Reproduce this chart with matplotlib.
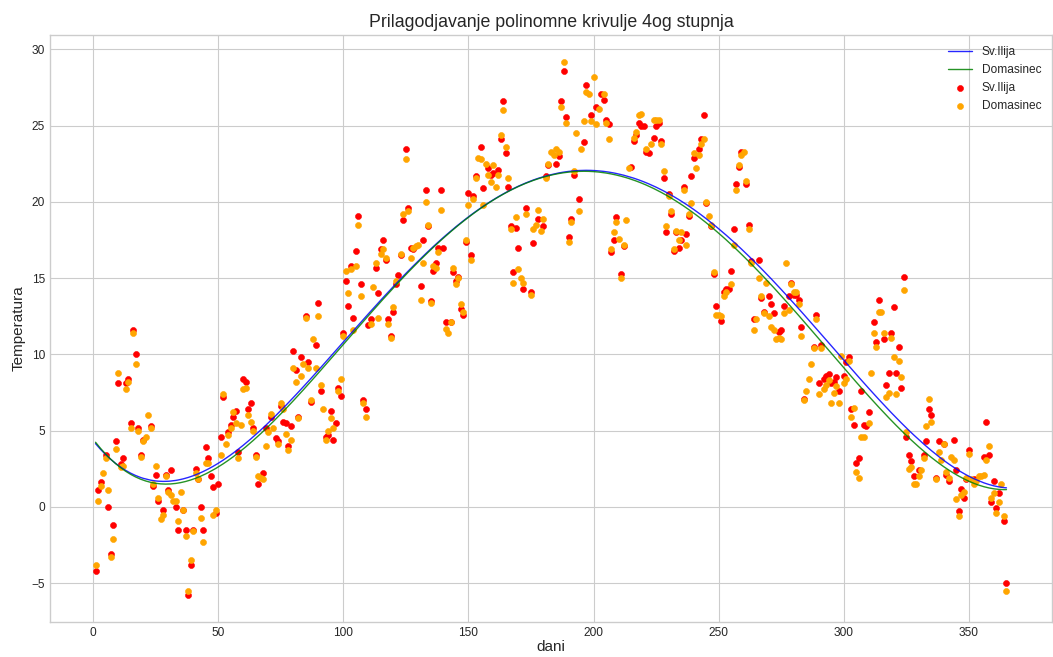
"""Sv.Ilija / Domasinec temperature scatter with 4th degree polynomial fit."""

import matplotlib
matplotlib.use('Agg')
import matplotlib.pyplot as plt
import numpy as np

# Sv.Ilija (red) - day of year, temperature
ilija_dani = [
    1, 2, 3, 5, 6, 7, 8, 9, 10, 11, 12, 13, 14, 15, 16, 17, 18, 19, 20, 23,
    24, 25, 26, 28, 29, 30, 31, 33, 34, 36, 37, 38, 39, 40, 41, 42, 43, 44, 45, 46,
    47, 48, 49, 50, 51, 52, 54, 55, 56, 57, 58, 60, 61, 62, 63, 64, 65, 66, 68, 69,
    71, 73, 74, 75, 76, 77, 78, 79, 80, 81, 82, 83, 85, 86, 87, 89, 90, 91, 93, 94,
    95, 96, 97, 98, 99, 100, 101, 102, 103, 104, 105, 106, 107, 108, 109, 110, 111, 113, 114, 115,
    116, 117, 118, 119, 120, 121, 122, 123, 124, 125, 126, 127, 128, 131, 132, 133, 134, 135, 136, 137,
    138, 139, 140, 141, 143, 144, 145, 146, 147, 148, 149, 150, 151, 152, 153, 155, 156, 158, 159, 160,
    162, 163, 164, 165, 166, 167, 168, 169, 170, 172, 173, 175, 176, 178, 180, 181, 182, 185, 186, 187,
    188, 189, 190, 191, 192, 194, 196, 197, 199, 201, 203, 204, 205, 206, 207, 208, 209, 211, 212, 215,
    216, 217, 218, 219, 220, 221, 222, 224, 225, 226, 227, 228, 229, 230, 231, 232, 233, 234, 235, 236,
    237, 238, 239, 240, 242, 243, 244, 245, 247, 248, 249, 251, 252, 253, 254, 255, 256, 257, 258, 259,
    261, 262, 263, 264, 266, 267, 268, 270, 271, 272, 274, 275, 276, 278, 279, 280, 281, 282, 283, 284,
    288, 289, 290, 291, 292, 293, 294, 295, 296, 297, 298, 300, 301, 302, 303, 304, 305, 306, 307, 308,
    309, 310, 312, 313, 314, 316, 317, 318, 319, 320, 321, 322, 323, 324, 325, 326, 327, 328, 330, 332,
    333, 334, 335, 337, 338, 340, 341, 342, 344, 345, 346, 347, 348, 349, 350, 352, 356, 357, 358, 359,
    360, 361, 362, 364, 365,
]
ilija_temp = [
    -4.2, 1.1, 1.6, 3.4, 0.0, -3.1, -1.2, 4.3, 8.1, 2.8, 3.2, 8.1, 8.4, 5.5, 11.6, 10.0, 5.2, 3.4, 4.4, 5.3,
    1.4, 2.1, 0.4, -0.2, 2.1, 1.1, 2.4, 0.0, -1.5, -0.2, -1.5, -5.8, -3.8, -1.5, 2.5, 1.8, 0.0, -1.5, 3.9, 3.2,
    2.0, 1.3, -0.4, 1.5, 4.6, 7.2, 4.9, 5.4, 5.9, 6.3, 3.6, 8.4, 8.2, 6.4, 6.8, 5.2, 3.4, 1.5, 2.2, 5.2,
    5.9, 4.5, 4.3, 6.6, 5.6, 5.5, 4.0, 5.3, 10.2, 9.0, 5.9, 9.8, 12.5, 9.5, 6.9, 10.6, 13.4, 7.6, 4.6, 4.7,
    6.3, 4.4, 5.5, 7.8, 7.3, 11.4, 14.8, 13.2, 15.8, 12.4, 16.8, 19.1, 14.6, 7.0, 6.4, 11.9, 12.3, 15.7, 14.0, 16.9,
    17.5, 16.2, 12.3, 11.2, 12.8, 14.6, 15.2, 16.5, 18.8, 23.5, 19.6, 17.0, 16.9, 14.5, 17.5, 20.8, 18.4, 13.5, 15.5, 16.0,
    17.0, 20.8, 17.0, 12.1, 12.1, 15.4, 14.8, 15.1, 13.0, 12.6, 17.4, 20.6, 16.5, 20.4, 21.7, 23.6, 20.9, 22.2, 21.8, 21.9,
    22.1, 24.1, 26.6, 23.2, 21.0, 18.4, 15.4, 18.3, 17.0, 14.3, 19.6, 14.1, 17.3, 18.9, 18.4, 21.7, 22.4, 22.5, 23.0, 26.6,
    28.6, 25.6, 17.7, 18.9, 21.8, 20.2, 23.9, 27.7, 25.7, 26.2, 27.1, 26.7, 25.4, 25.1, 16.7, 17.5, 19.0, 15.3, 17.1, 22.3,
    24.0, 24.4, 25.2, 25.0, 25.0, 23.3, 23.2, 24.2, 25.0, 25.2, 24.0, 21.6, 18.0, 20.5, 19.2, 16.8, 18.0, 17.0, 17.5, 21.0,
    17.9, 19.1, 21.7, 22.9, 23.5, 24.1, 25.7, 19.9, 18.4, 15.3, 13.2, 12.2, 14.1, 14.3, 14.3, 15.5, 18.2, 21.2, 22.3, 23.3,
    21.2, 18.5, 16.1, 12.3, 16.2, 13.7, 12.8, 13.8, 13.3, 12.7, 11.5, 11.6, 13.2, 13.8, 14.7, 13.9, 13.9, 13.6, 11.8, 7.1,
    10.5, 12.6, 8.1, 10.6, 8.4, 8.6, 8.7, 8.1, 8.2, 8.5, 7.6, 8.6, 9.5, 9.8, 6.4, 5.4, 2.9, 3.2, 7.6, 5.4,
    5.3, 6.2, 12.1, 10.8, 13.6, 11.0, 8.0, 8.8, 11.4, 13.1, 8.8, 10.5, 7.8, 15.1, 4.6, 3.4, 3.0, 2.0, 2.4, 3.4,
    4.3, 6.4, 6.0, 1.9, 4.3, 4.1, 2.1, 1.7, 4.4, 2.4, -0.3, 1.2, 0.6, 1.8, 3.7, 1.8, 3.3, 5.6, 3.4, 0.3,
    1.7, -0.1, 0.9, -0.9, -5.0,
]

# Domasinec (orange) - day of year, temperature
domasinec_dani = [
    1, 2, 3, 4, 5, 6, 7, 8, 9, 10, 11, 12, 13, 14, 15, 16, 17, 18, 19, 20,
    21, 22, 23, 24, 25, 26, 27, 28, 29, 30, 31, 32, 33, 34, 35, 36, 37, 38, 39, 40,
    41, 42, 43, 44, 45, 46, 48, 49, 51, 52, 53, 54, 55, 56, 57, 58, 59, 60, 61, 62,
    63, 64, 65, 66, 67, 68, 69, 70, 71, 72, 74, 75, 76, 77, 78, 79, 80, 81, 82, 83,
    84, 85, 86, 87, 88, 89, 90, 91, 92, 93, 94, 95, 96, 98, 99, 100, 101, 102, 103, 104,
    105, 106, 107, 108, 109, 111, 112, 113, 114, 115, 116, 117, 118, 119, 120, 121, 123, 124, 125, 126,
    127, 128, 129, 130, 131, 132, 133, 134, 135, 136, 137, 138, 139, 141, 142, 143, 144, 145, 146, 147,
    148, 149, 150, 151, 152, 153, 154, 155, 156, 157, 158, 159, 160, 161, 162, 163, 164, 165, 166, 167,
    168, 169, 170, 171, 172, 173, 175, 176, 177, 178, 179, 180, 181, 182, 183, 184, 185, 186, 187, 188,
    189, 190, 191, 192, 193, 194, 195, 196, 197, 198, 199, 200, 201, 202, 204, 205, 206, 207, 208, 209,
    210, 211, 212, 213, 214, 216, 217, 218, 219, 221, 223, 224, 225, 226, 227, 228, 229, 230, 231, 232,
    233, 234, 235, 236, 237, 238, 239, 240, 241, 242, 243, 244, 245, 246, 247, 248, 249, 250, 251, 252,
    253, 255, 256, 257, 258, 259, 260, 261, 262, 263, 264, 265, 266, 267, 268, 269, 270, 271, 272, 273,
    274, 275, 276, 277, 278, 279, 280, 281, 282, 283, 284, 285, 286, 287, 288, 289, 290, 291, 292, 293,
    294, 295, 296, 297, 298, 299, 300, 301, 302, 303, 304, 305, 306, 307, 308, 310, 311, 312, 313, 314,
    315, 316, 317, 318, 319, 320, 321, 322, 323, 324, 325, 326, 327, 328, 329, 330, 331, 332, 333, 334,
    335, 337, 338, 339, 340, 341, 342, 343, 344, 345, 346, 347, 348, 349, 350, 351, 352, 353, 354, 355,
    356, 357, 358, 359, 360, 361, 362, 363, 364, 365,
]
domasinec_temp = [
    -3.8, 0.4, 1.4, 2.2, 3.2, 1.1, -3.3, -2.1, 3.8, 8.8, 2.6, 2.7, 7.7, 8.2, 5.2, 11.4, 9.4, 5.0, 3.3, 4.3,
    4.6, 6.0, 5.2, 1.5, 2.7, 0.6, -0.8, -0.5, 2.0, 1.0, 0.8, 0.4, 0.4, -0.9, 1.0, -0.2, -1.9, -5.5, -3.5, -1.6,
    2.2, 1.8, -0.7, -2.3, 2.9, 2.9, -0.5, -0.2, 3.4, 7.4, 4.1, 4.7, 5.2, 6.2, 5.5, 3.2, 5.4, 7.7, 7.8, 6.0,
    5.6, 5.0, 3.3, 2.0, 1.9, 1.8, 4.0, 4.9, 6.1, 5.2, 4.1, 6.8, 6.4, 4.8, 3.7, 4.4, 9.1, 8.2, 5.8, 8.6,
    9.4, 12.4, 9.1, 7.0, 11.0, 9.1, 12.5, 8.0, 6.4, 4.4, 5.0, 5.8, 5.2, 7.6, 8.4, 11.2, 15.5, 14.0, 15.6, 11.6,
    15.8, 18.5, 13.8, 6.8, 5.9, 12.0, 14.4, 16.0, 12.4, 16.6, 16.9, 16.3, 12.0, 11.1, 13.1, 14.8, 16.6, 19.2, 22.8, 19.4,
    16.3, 17.0, 17.1, 17.2, 13.6, 16.0, 20.0, 18.5, 13.4, 15.8, 15.7, 16.7, 19.5, 11.7, 11.4, 12.1, 15.7, 14.6, 15.0, 13.3,
    12.8, 17.5, 19.8, 16.2, 20.2, 21.6, 22.9, 22.8, 19.8, 22.5, 21.8, 21.3, 22.4, 21.0, 21.8, 24.4, 26.0, 23.6, 21.6, 18.2,
    14.7, 19.0, 15.6, 15.0, 14.7, 19.2, 13.9, 18.2, 18.5, 19.5, 18.1, 18.9, 21.6, 22.5, 23.3, 23.1, 23.5, 23.3, 26.2, 29.2,
    25.2, 17.4, 18.7, 22.0, 24.5, 19.4, 23.5, 25.3, 27.2, 27.1, 25.3, 28.2, 25.1, 26.1, 27.1, 25.2, 24.1, 16.9, 18.0, 18.7,
    17.6, 15.0, 17.2, 18.8, 22.2, 24.2, 24.6, 25.7, 25.8, 23.5, 23.8, 25.4, 25.4, 25.4, 23.8, 22.0, 18.4, 20.4, 19.4, 16.9,
    18.1, 17.5, 18.0, 20.8, 17.2, 19.2, 19.9, 23.2, 22.2, 23.1, 23.8, 24.1, 20.0, 19.1, 18.5, 15.4, 12.6, 12.6, 12.5, 13.8,
    14.1, 14.6, 17.2, 20.8, 22.4, 23.1, 23.3, 21.4, 18.2, 16.0, 11.6, 12.3, 15.0, 13.8, 12.7, 14.7, 12.5, 11.8, 11.6, 11.0,
    11.1, 11.0, 12.7, 16.0, 12.9, 14.6, 14.1, 14.1, 13.3, 11.2, 7.0, 7.6, 8.4, 9.4, 10.4, 12.3, 7.4, 10.4, 7.7, 8.0,
    8.3, 6.8, 7.5, 7.9, 6.8, 9.9, 8.1, 8.4, 9.6, 5.9, 6.5, 2.3, 1.9, 4.6, 4.6, 5.5, 8.8, 11.4, 10.5, 12.8,
    12.8, 11.4, 7.2, 7.5, 11.1, 9.8, 7.4, 9.6, 8.5, 14.2, 4.9, 2.5, 2.6, 1.5, 1.5, 2.0, 2.4, 3.2, 5.3, 7.1,
    5.6, 1.8, 3.6, 3.1, 4.1, 2.3, 1.9, 3.3, 3.1, 0.5, -0.6, 0.8, 1.0, 1.9, 3.5, 1.8, 1.5, 1.7, 2.0, 2.0,
    2.1, 3.1, 4.0, 0.6, 0.9, -0.4, 0.3, 1.5, -0.6, -5.5,
]

plt.style.use('seaborn-v0_8-whitegrid')
plt.rcParams['font.family'] = ['Liberation Sans', 'DejaVu Sans']

# 4th degree polynomial fits
ilija_fit = np.poly1d(np.polyfit(ilija_dani, ilija_temp, 4))
domasinec_fit = np.poly1d(np.polyfit(domasinec_dani, domasinec_temp, 4))

fig = plt.figure(figsize=(10.53, 6.57), dpi=100)
ax = fig.add_axes([50 / 1053, 35 / 657, 1002 / 1053, 587 / 657])

ax.plot(ilija_dani, ilija_fit(ilija_dani), color='blue', linewidth=1.0, alpha=0.85, label='Sv.Ilija')
ax.plot(domasinec_dani, domasinec_fit(domasinec_dani), color='green', linewidth=1.0, alpha=0.85, label='Domasinec')
ax.scatter(ilija_dani, ilija_temp, color='red', s=19, linewidths=0.4, label='Sv.Ilija')
ax.scatter(domasinec_dani, domasinec_temp, color='orange', s=19, linewidths=0.4, label='Domasinec')

ax.set_title('Prilagodjavanje polinomne krivulje 4og stupnja', fontsize=12.8)
ax.set_xlabel('dani', fontsize=11, labelpad=1)
ax.set_ylabel('Temperatura', fontsize=11)
ax.tick_params(labelsize=8.6)
ax.legend(loc='upper right', fontsize=8.6)

fig.savefig('out.png', dpi=100)
plt.close(fig)
